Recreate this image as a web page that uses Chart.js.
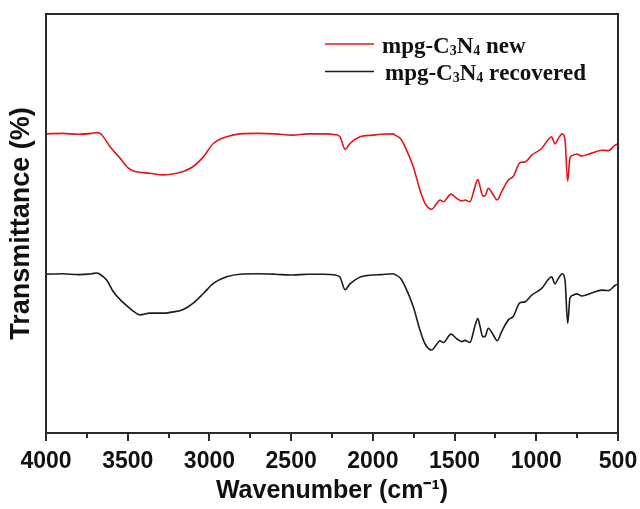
<!DOCTYPE html>
<html lang="en">
<head>
<meta charset="UTF-8" />
<title>FTIR spectra of mpg-C3N4</title>
<script src="https://cdn.jsdelivr.net/npm/chart.js"></script>
<style>
  * { margin: 0; padding: 0; box-sizing: border-box; }
  body { background: #ffffff; width: 640px; height: 509px; overflow: hidden; }
</style>
</head>
<body>
<canvas id="ftirChart" width="640" height="509"></canvas>
<script>
  // Fresh catalyst: wavenumber (cm-1) and transmittance (arb. offset units)
  const wavenumbersNew = [4000, 3900, 3800, 3720, 3690, 3665, 3640, 3608, 3547, 3496, 3455, 3364, 3282, 3200, 3160, 3099, 3037, 2976, 2894, 2813, 2700, 2600, 2490, 2400, 2300, 2230, 2201, 2170, 2140, 2079, 2000, 1950, 1875, 1864, 1830, 1803, 1753, 1712, 1681, 1640, 1609, 1589, 1569, 1522, 1487, 1456, 1436, 1406, 1375, 1358, 1344, 1328, 1314, 1294, 1263, 1239, 1212, 1171, 1141, 1100, 1069, 1028, 967, 906, 886, 865, 841, 824, 808, 794, 774, 753, 722, 661, 600, 559, 518, 500];
  const transmittanceNew = [71.4, 71.5, 71.3, 71.5, 71.7, 71.4, 70.2, 68.3, 65.6, 63.2, 62.4, 62.0, 61.6, 62.0, 62.4, 63.6, 65.9, 69.1, 70.7, 71.4, 71.5, 71.4, 71.1, 71.4, 71.4, 71.2, 70.7, 67.7, 69.1, 70.7, 71.1, 71.3, 71.4, 71.1, 70.2, 68.3, 63.6, 58.0, 54.8, 53.4, 54.8, 55.6, 55.2, 57.0, 56.0, 55.4, 55.6, 55.2, 58.8, 60.5, 58.8, 56.6, 56.6, 58.4, 56.8, 55.6, 57.6, 60.4, 61.2, 64.5, 64.7, 66.3, 67.9, 70.7, 69.0, 70.3, 71.4, 69.9, 60.1, 65.6, 66.3, 66.6, 66.1, 66.8, 67.5, 67.4, 68.7, 69.0];

  // Recovered catalyst
  const wavenumbersRecovered = [4000, 3900, 3800, 3720, 3690, 3670, 3629, 3588, 3527, 3476, 3425, 3364, 3282, 3221, 3160, 3099, 3037, 2976, 2894, 2813, 2700, 2600, 2490, 2400, 2300, 2230, 2201, 2170, 2140, 2079, 2000, 1950, 1875, 1864, 1830, 1803, 1753, 1712, 1681, 1640, 1609, 1589, 1569, 1522, 1487, 1456, 1436, 1406, 1375, 1358, 1344, 1328, 1314, 1294, 1263, 1239, 1212, 1171, 1141, 1100, 1069, 1028, 967, 906, 886, 865, 841, 824, 808, 794, 774, 753, 722, 661, 600, 559, 518, 500];
  const transmittanceRecovered = [37.9, 38.0, 37.8, 38.0, 38.2, 37.9, 36.5, 33.7, 31.1, 29.4, 28.2, 28.6, 28.6, 28.9, 29.5, 31.0, 33.3, 35.7, 37.3, 37.9, 38.0, 37.9, 37.7, 37.9, 37.9, 37.7, 37.2, 34.2, 35.6, 37.2, 37.7, 37.8, 38.0, 37.8, 36.9, 35.0, 30.2, 24.6, 21.3, 19.8, 21.2, 22.0, 21.6, 23.6, 22.5, 21.8, 22.1, 21.6, 25.6, 27.3, 25.4, 23.0, 23.0, 25.0, 23.4, 22.0, 24.2, 27.0, 27.8, 31.1, 31.3, 32.9, 34.5, 37.3, 35.6, 36.9, 38.0, 36.4, 26.2, 32.2, 32.9, 33.2, 32.7, 33.4, 34.1, 34.0, 35.2, 35.6];

  const seriesLabels = ['mpg-C₃N₄ new', 'mpg-C₃N₄ recovered'];
  const seriesColors = ['#e3161d', '#1c1c1c'];

  const xMajorTicks = [4000, 3500, 3000, 2500, 2000, 1500, 1000, 500];
  const xMinorTicks = [3750, 3250, 2750, 2250, 1750, 1250, 750];

  const axisColor = '#2b2b2b';
  const sansBold = (size) => ({ family: 'Arial, "Liberation Sans", sans-serif', size, weight: 'bold' });

  function toPoints(xs, ys) {
    return xs.map((x, i) => ({ x, y: ys[i] }));
  }

  // draws a label, rendering unicode subscript digits smaller and lowered
  const subDigits = { '₀': '0', '₁': '1', '₂': '2', '₃': '3', '₄': '4', '₅': '5', '₆': '6', '₇': '7', '₈': '8', '₉': '9' };
  function drawRichLabel(ctx, text, x, y, size) {
    const normal = `bold ${size}px "Times New Roman", "Liberation Serif", serif`;
    const small = `bold ${Math.round(size * 0.62)}px "Times New Roman", "Liberation Serif", serif`;
    let cx = x;
    for (const ch of text) {
      const isSub = ch in subDigits;
      ctx.font = isSub ? small : normal;
      const s = isSub ? subDigits[ch] : ch;
      ctx.fillText(s, cx, isSub ? y + 2 : y);
      cx += ctx.measureText(s).width;
    }
  }

  // box frame, minor ticks and the in-plot legend
  const framePlugin = {
    id: 'framePlugin',
    afterDraw(chart) {
      const { ctx, chartArea: a } = chart;
      const xScale = chart.scales.x;
      ctx.save();
      ctx.strokeStyle = axisColor;
      ctx.lineWidth = 2;
      ctx.strokeRect(a.left, a.top, a.right - a.left, a.bottom - a.top);

      ctx.beginPath();
      for (const v of xMinorTicks) {
        const px = Math.round(xScale.getPixelForValue(v));
        ctx.moveTo(px, a.bottom);
        ctx.lineTo(px, a.bottom + 5);
      }
      ctx.stroke();

      ctx.textBaseline = 'alphabetic';
      ctx.fillStyle = '#111111';
      chart.data.datasets.forEach((ds, i) => {
        const ly = a.top + 30 + i * 27.5;
        ctx.strokeStyle = ds.borderColor;
        ctx.lineWidth = 1.6;
        ctx.beginPath();
        ctx.moveTo(a.right - 293, ly);
        ctx.lineTo(a.right - 244, ly);
        ctx.stroke();
        drawRichLabel(ctx, ds.label, a.right - 236 + i * 3, ly + 8.5, 23);
      });
      ctx.restore();
    }
  };

  new Chart(document.getElementById('ftirChart'), {
    type: 'line',
    data: {
      datasets: [
        {
          label: seriesLabels[0],
          data: toPoints(wavenumbersNew, transmittanceNew),
          borderColor: seriesColors[0],
          borderWidth: 1.6,
          pointRadius: 0,
          cubicInterpolationMode: 'monotone',
          fill: false,
        },
        {
          label: seriesLabels[1],
          data: toPoints(wavenumbersRecovered, transmittanceRecovered),
          borderColor: seriesColors[1],
          borderWidth: 1.6,
          pointRadius: 0,
          cubicInterpolationMode: 'monotone',
          fill: false,
        },
      ],
    },
    options: {
      responsive: false,
      animation: false,
      devicePixelRatio: 1,
      layout: { padding: { top: 14, right: 22, left: 0, bottom: 0 } },
      plugins: {
        legend: { display: false },
        tooltip: { enabled: false },
      },
      scales: {
        x: {
          type: 'linear',
          reverse: true,
          min: 500,
          max: 4000,
          afterBuildTicks: (s) => { s.ticks = xMajorTicks.map((v) => ({ value: v })); },
          afterFit: (s) => {
            s.height = 76;
            // end labels may hang over the margins
            s.paddingLeft = 0;
            s.paddingRight = 0;
          },
          ticks: {
            autoSkip: false,
            maxRotation: 0,
            padding: 7,
            color: '#111111',
            font: sansBold(23),
            callback: (v) => String(v),
          },
          grid: {
            display: true,
            drawOnChartArea: false,
            drawTicks: true,
            tickLength: 8,
            color: axisColor,
            lineWidth: 2,
          },
          border: { display: false },
          title: {
            display: true,
            text: 'Wavenumber (cm⁻¹)',
            color: '#111111',
            font: sansBold(25),
            padding: { top: 0, bottom: 3 },
          },
        },
        y: {
          min: 0,
          max: 100,
          afterFit: (s) => { s.width = 46; },
          ticks: { display: false },
          grid: { display: false },
          border: { display: false },
          title: {
            display: true,
            text: 'Transmittance (%)',
            color: '#111111',
            font: sansBold(27),
            padding: { top: 5, bottom: 0 },
          },
        },
      },
    },
    plugins: [framePlugin],
  });
</script>
</body>
</html>
